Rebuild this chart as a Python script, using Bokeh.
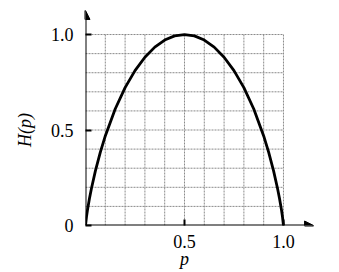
from bokeh.plotting import figure
from bokeh.models import Range1d, FixedTicker, Arrow, NormalHead, LinearAxis
from bokeh.embed import file_html
from bokeh.resources import INLINE

# Data (binary entropy curve)
p_vals = [0, 0.005, 0.01, 0.02, 0.03, 0.05, 0.075, 0.1, 0.15, 0.2, 0.25, 0.3, 0.35,
          0.4, 0.45, 0.5, 0.55, 0.6, 0.65, 0.7, 0.75, 0.8, 0.85, 0.9, 0.925, 0.95,
          0.97, 0.98, 0.99, 0.995, 1.0]
h_vals = [0, 0.045, 0.081, 0.141, 0.194, 0.286, 0.384, 0.469, 0.610, 0.722, 0.811,
          0.881, 0.934, 0.971, 0.993, 1.0, 0.993, 0.971, 0.934, 0.881, 0.811, 0.722,
          0.610, 0.469, 0.384, 0.286, 0.194, 0.141, 0.081, 0.045, 0]

grid_vals = [0.1, 0.2, 0.3, 0.4, 0.5, 0.6, 0.7, 0.8, 0.9, 1.0]
x_ticks = [0.5, 1.0]
x_tick_labels = {0.5: "0.5", 1.0: "1.0"}
y_ticks = [0, 0.5, 1.0]
y_tick_labels = {0: "0", 0.5: "0.5", 1.0: "1.0"}
title_pos = 0.5
x_label, y_label = "p", "H(p)"
x_max, y_max = 1.0, 1.0
x_arrow_tip, y_arrow_tip = 1.152, 1.126

p = figure(width=339, height=272, output_backend="svg", toolbar_location=None,
           x_range=Range1d(0, 1.187), y_range=Range1d(0, 1.152),
           min_border_left=85, min_border_right=19, min_border_top=5,
           min_border_bottom=47)
p.outline_line_color = None
p.xgrid.visible = False
p.ygrid.visible = False

# grid of dotted lines inside the unit square
p.segment(x0=grid_vals, y0=[0] * len(grid_vals), x1=grid_vals, y1=[y_max] * len(grid_vals),
          line_color="#8a8a8a", line_width=1, line_dash="2 1")
p.segment(x0=[0] * len(grid_vals), y0=grid_vals, x1=[x_max] * len(grid_vals), y1=grid_vals,
          line_color="#8a8a8a", line_width=1, line_dash="2 1")

# curve
p.line(p_vals, h_vals, line_color="black", line_width=2.8)

# axes with arrows
p.add_layout(Arrow(x_start=0, y_start=0, x_end=x_arrow_tip, y_end=0, line_width=2,
                   line_color="black",
                   end=NormalHead(size=9, fill_color="black", line_color="black")))
p.add_layout(Arrow(x_start=0, y_start=0, x_end=0, y_end=y_arrow_tip, line_width=2,
                   line_color="black",
                   end=NormalHead(size=9, fill_color="black", line_color="black")))

serif = "Liberation Serif"
for ax in (p.xaxis[0], p.yaxis[0]):
    ax.axis_line_color = None
    ax.major_tick_in = 6
    ax.major_tick_out = 0
    ax.major_tick_line_width = 2
    ax.major_tick_line_color = "black"
    ax.minor_tick_line_color = None
    ax.major_label_text_font = serif
    ax.major_label_text_font_size = "18px"
    ax.major_label_text_color = "black"

p.xaxis[0].ticker = FixedTicker(ticks=x_ticks)
p.xaxis[0].major_label_overrides = x_tick_labels
p.xaxis[0].major_label_standoff = 9

p.yaxis[0].ticker = FixedTicker(ticks=y_ticks)
p.yaxis[0].major_label_overrides = y_tick_labels
p.yaxis[0].major_label_standoff = 12


def title_axis(text, orientation, standoff):
    ax = LinearAxis(ticker=FixedTicker(ticks=[title_pos]),
                    major_label_overrides={title_pos: text},
                    major_label_orientation=orientation,
                    major_label_standoff=standoff,
                    axis_line_color=None, major_tick_line_color=None,
                    minor_tick_line_color=None,
                    major_tick_in=0, major_tick_out=0)
    ax.major_label_text_font = serif
    ax.major_label_text_font_style = "italic"
    ax.major_label_text_font_size = "18px"
    ax.major_label_text_color = "black"
    return ax


# axis titles, centred on the middle of the unit square
p.add_layout(title_axis(x_label, "horizontal", -2), "below")
p.add_layout(title_axis(y_label, "vertical", 12), "left")

open("out.html", "w").write(file_html(p, INLINE))
